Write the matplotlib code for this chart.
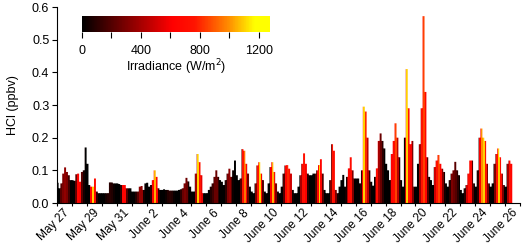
import matplotlib
matplotlib.use("Agg")
import matplotlib.pyplot as plt
import numpy as np
from matplotlib.colors import LinearSegmentedColormap, Normalize
from matplotlib.path import Path

plt.rcParams['font.family'] = ['Liberation Sans', 'DejaVu Sans']
plt.rcParams['font.size'] = 9

# sample hours of each day; day 0 = May 26
hours = [1, 4, 7, 10, 13, 16, 19, 22]

# HCl (ppbv), one row per day
hcl = [
    [0.062, 0.045, 0.06, 0.09, 0.109, 0.095, 0.085, 0.07],   # May 26
    [0.07, 0.068, 0.088, 0.09, 0.065, 0.095, 0.10, 0.17],    # May 27
    [0.12, 0.055, 0.05, 0.05, 0.075, 0.035, 0.03, 0.03],     # May 28
    [0.03, 0.03, 0.03, 0.03, 0.063, 0.063, 0.06, 0.06],      # May 29
    [0.06, 0.058, 0.055, 0.055, 0.055, 0.045, 0.045, 0.045], # May 30
    [0.035, 0.035, 0.035, 0.035, 0.05, 0.052, 0.04, 0.06],   # May 31
    [0.062, 0.05, 0.055, 0.07, 0.10, 0.08, 0.045, 0.04],     # June 1
    [0.04, 0.042, 0.04, 0.04, 0.038, 0.038, 0.038, 0.038],   # June 2
    [0.038, 0.04, 0.042, 0.045, 0.06, 0.077, 0.066, 0.05],   # June 3
    [0.035, 0.035, 0.09, 0.15, 0.125, 0.085, 0.03, 0.03],    # June 4
    [0.03, 0.04, 0.05, 0.06, 0.08, 0.10, 0.08, 0.07],        # June 5
    [0.065, 0.055, 0.07, 0.09, 0.105, 0.08, 0.10, 0.13],     # June 6
    [0.085, 0.07, 0.075, 0.165, 0.16, 0.12, 0.09, 0.05],     # June 7
    [0.035, 0.03, 0.06, 0.115, 0.125, 0.09, 0.07, 0.035],    # June 8
    [0.03, 0.06, 0.11, 0.125, 0.095, 0.06, 0.035, 0.03],     # June 9
    [0.05, 0.09, 0.115, 0.116, 0.105, 0.09, 0.04, 0.03],     # June 10
    [0.03, 0.05, 0.085, 0.12, 0.152, 0.12, 0.09, 0.085],     # June 11
    [0.085, 0.09, 0.09, 0.10, 0.116, 0.134, 0.09, 0.04],     # June 12
    [0.03, 0.03, 0.07, 0.18, 0.16, 0.04, 0.03, 0.05],        # June 13
    [0.07, 0.086, 0.05, 0.08, 0.106, 0.14, 0.10, 0.075],     # June 14
    [0.075, 0.075, 0.06, 0.10, 0.295, 0.28, 0.20, 0.10],     # June 15
    [0.065, 0.053, 0.08, 0.106, 0.19, 0.213, 0.19, 0.167],   # June 16
    [0.12, 0.10, 0.07, 0.15, 0.19, 0.244, 0.20, 0.14],       # June 17
    [0.07, 0.05, 0.20, 0.41, 0.29, 0.18, 0.19, 0.05],        # June 18
    [0.05, 0.12, 0.18, 0.29, 0.572, 0.34, 0.14, 0.08],       # June 19
    [0.07, 0.055, 0.11, 0.13, 0.147, 0.12, 0.105, 0.095],    # June 20
    [0.06, 0.05, 0.07, 0.09, 0.10, 0.126, 0.10, 0.085],      # June 21
    [0.04, 0.03, 0.045, 0.055, 0.09, 0.13, 0.13, 0.06],      # June 22
    [0.05, 0.10, 0.20, 0.228, 0.20, 0.19, 0.12, 0.06],       # June 23
    [0.05, 0.06, 0.12, 0.15, 0.167, 0.14, 0.09, 0.055],      # June 24
    [0.05, 0.12, 0.13, 0.12],                                # June 25
]

# irradiance (W/m2), same sampling
irradiance = [
    [0, 0, 200, 300, 350, 300, 150, 0],
    [0, 0, 250, 650, 600, 200, 50, 0],
    [0, 0, 650, 1100, 700, 100, 0, 0],
    [0, 0, 50, 80, 100, 80, 30, 0],
    [0, 0, 100, 650, 650, 200, 30, 0],
    [0, 0, 80, 200, 350, 350, 50, 0],
    [0, 0, 100, 650, 1050, 650, 100, 0],
    [0, 0, 30, 80, 100, 80, 20, 0],
    [0, 0, 100, 250, 300, 250, 50, 0],
    [0, 0, 400, 1100, 750, 550, 50, 0],
    [0, 0, 80, 150, 250, 250, 100, 0],
    [0, 0, 100, 300, 350, 200, 30, 0],
    [0, 0, 200, 750, 950, 650, 250, 0],
    [0, 0, 300, 750, 1100, 650, 200, 0],
    [0, 0, 600, 1050, 700, 300, 50, 0],
    [0, 200, 650, 800, 700, 500, 50, 0],
    [0, 0, 400, 700, 750, 600, 100, 0],
    [0, 0, 200, 650, 1100, 650, 200, 0],
    [0, 0, 300, 750, 700, 300, 50, 0],
    [0, 0, 50, 400, 650, 700, 300, 0],
    [0, 0, 100, 600, 1100, 800, 450, 100],
    [0, 0, 300, 700, 400, 250, 100, 0],
    [0, 0, 200, 650, 700, 850, 450, 100],
    [0, 0, 500, 1100, 750, 600, 300, 0],
    [0, 0, 400, 750, 850, 650, 200, 0],
    [0, 0, 500, 750, 850, 650, 300, 50],
    [0, 0, 100, 300, 250, 200, 100, 0],
    [0, 0, 100, 500, 700, 650, 200, 0],
    [0, 100, 600, 1000, 1100, 750, 300, 0],
    [0, 0, 300, 750, 1100, 700, 300, 0],
    [0, 400, 700, 650],
]

tick_days = [1, 3, 5, 7, 9, 11, 13, 15, 17, 19, 21, 23, 25, 27, 29, 31]
tick_labels = ["May 27", "May 29", "May 31", "June 2", "June 4", "June 6",
               "June 8", "June 10", "June 12", "June 14", "June 16", "June 18",
               "June 20", "June 22", "June 24", "June 26"]

t = np.array([d + h / 24.0 for d, row in enumerate(hcl) for h, _ in zip(hours, row)])
v = np.concatenate([np.array(r, float) for r in hcl])
irr = np.concatenate([np.array(r, float) for r in irradiance])

cmap = LinearSegmentedColormap.from_list(
    "irr", [(0, "#000000"), (0.48, "#ff0000"), (0.6, "#ff1400"),
            (0.78, "#ff8c00"), (0.92, "#ffff00"), (1, "#ffff00")])
norm = Normalize(0, 1275)

fig = plt.figure(figsize=(5.24, 2.46), dpi=100)
ax = fig.add_axes([57 / 524, 1 - 203 / 246, 463 / 524, 196 / 246])

# one bar per 3-hour sample; the bars are the outline that the
# irradiance colour image is clipped to
dt = t[1] - t[0]
bars = ax.bar(t, v, width=dt * 1.05, color="none", edgecolor="none")
outline = Path.make_compound_path(
    *[b.get_path().transformed(b.get_patch_transform()) for b in bars])
im = ax.imshow(irr[np.newaxis, :], cmap=cmap, norm=norm, aspect="auto",
               interpolation="nearest",
               extent=[t[0] - dt / 2, t[-1] + dt / 2, 0, 0.6], origin="lower")
im.set_clip_path(outline, transform=ax.transData)

ax.set_xlim(0, 31)
ax.set_ylim(0, 0.6)
ax.set_yticks(np.arange(0, 0.61, 0.1))
ax.set_yticklabels(["%.1f" % y for y in np.arange(0, 0.61, 0.1)])
ax.set_xticks(tick_days)
ax.set_xticklabels(tick_labels, rotation=45, ha="right", fontsize=8.6)
ax.set_xticks(range(0, 32), minor=True)
ax.tick_params(axis="x", which="both", length=2.5, width=0.8, direction="out", pad=0.5)
ax.tick_params(axis="y", length=3.5, width=0.8, direction="out", pad=2)
for s in ["top", "right"]:
    ax.spines[s].set_visible(False)
ax.set_ylabel("HCl (ppbv)", labelpad=9)

cax = fig.add_axes([82 / 524, 1 - 32 / 246, 188 / 524, 16 / 246])
cb = fig.colorbar(matplotlib.cm.ScalarMappable(norm=norm, cmap=cmap), cax=cax,
                  orientation="horizontal")
cb.outline.set_visible(False)
cb.set_ticks([0, 400, 800, 1200])
cb.ax.set_xticks([200, 600, 1000], minor=True)
cb.ax.tick_params(which="both", length=4, width=0.8, direction="out", pad=5)
cb.set_label("Irradiance (W/m$^2$)", labelpad=1)

fig.savefig("out.png", dpi=100)
